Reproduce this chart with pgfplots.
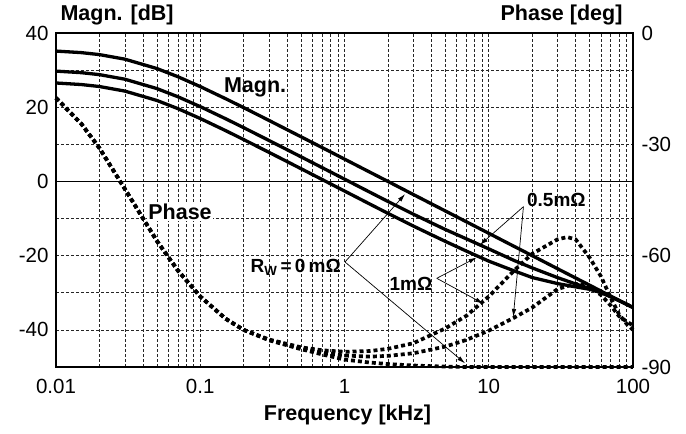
\documentclass[border=0pt]{standalone}
\usepackage{fontspec}
\setmainfont{Liberation Sans}
\usepackage{pgfplots}
\usepackage{pgfplotstable}
\pgfplotsset{compat=1.18}
\usetikzlibrary{arrows.meta}

\pgfplotstableread{
f     top     mid     bot
0.01  35.13   29.73   26.53
0.015 34.71   29.31   26.11
0.02  34.18   28.78   25.58
0.03  32.95   27.55   24.35
0.05  30.43   25.03   21.83
0.07  28.22   22.82   19.62
0.1   25.56   20.16   16.96
0.15  22.29   16.89   13.69
0.2   19.89   14.49   11.29
0.3   16.43   11.03    7.83
0.5   12.03    6.63    3.43
0.7    9.12    3.72    0.52
1      6.02    0.62   -2.58
1.5    2.50   -2.90   -6.10
2      0.01   -5.39   -8.59
3     -3.52   -8.82  -12.02
5     -7.95  -12.95  -16.15
7    -10.87  -15.47  -18.77
10   -13.97  -18.17  -21.47
15   -17.50  -21.30  -24.10
20   -19.99  -23.29  -25.89
30   -23.52  -25.92  -27.52
40   -26.01  -27.61  -28.41
50   -27.95  -28.85  -29.05
60   -29.54  -29.94  -29.94
70   -30.88  -31.08  -31.03
80   -32.04  -32.14  -32.09
90   -33.06  -33.06  -33.06
100  -33.97  -33.97  -33.97
}\magtable

\pgfplotstableread{
f     p0     p05    p1
0.01  -17.5  -17.5  -17.5
0.015 -24.5  -24.5  -24.5
0.02  -31.0  -31.0  -31.0
0.03  -42.0  -42.0  -42.0
0.05  -56.0  -56.0  -56.0
0.07  -64.0  -64.0  -64.0
0.1   -71.0  -71.0  -71.0
0.15  -77.0  -77.0  -77.0
0.2   -80.0  -80.0  -80.0
0.3   -82.8  -82.7  -82.6
0.5   -85.2  -85.0  -84.7
0.7   -86.6  -86.2  -85.5
1     -88.0  -86.9  -85.9
1.5   -88.8  -87.2  -85.7
2     -89.2  -87.0  -85.1
3     -89.6  -86.3  -83.6
5     -89.9  -84.5  -79.6
7     -90.0  -82.7  -76.2
10    -90.0  -80.2  -71.0
15    -90.0  -76.7  -64.0
20    -90.0  -74.0  -59.5
30    -90.0  -69.0  -55.6
35    -90.0  -68.2  -55.0
40    -90.0  -67.6  -55.6
50    -90.0  -68.2  -60.5
60    -90.0  -70.6  -65.6
70    -90.0  -73.4  -71.3
80    -90.0  -76.3  -75.8
90    -90.0  -77.7  -78.3
100   -90.0  -78.8  -80.0
}\phasetable

\begin{document}
\begin{tikzpicture}[font=\fontsize{20}{24}\selectfont]
\begin{axis}[
  at={(0,0)}, anchor=south west,
  scale only axis, width=577pt, height=334pt,
  xmode=log, xmin=0.01, xmax=100,
  ymin=-50, ymax=40,
  xtick={0.01,0.1,1,10,100},
  xticklabels={0.01,0.1,1,10,100},
  minor xtick={0.02,0.03,0.04,0.05,0.06,0.07,0.08,0.09,0.2,0.3,0.4,0.5,0.6,0.7,0.8,0.9,2,3,4,5,6,7,8,9,20,30,40,50,60,70,80,90},
  ytick={-40,-20,0,20,40},
  yticklabels={-40,-20,0,20,40},
  minor ytick={-30,-10,10,30},
  grid=both,
  major grid style={black!85, line width=0.6pt, dash pattern=on 3pt off 2pt},
  minor grid style={black!85, line width=0.6pt, dash pattern=on 3pt off 2pt},
  axis line style={line width=1.8pt},
  major tick length=0pt, minor tick length=0pt,
  tick label style={font=\fontsize{20.5}{24}\selectfont},
  xticklabel style={yshift=-9pt},
  yticklabel style={xshift=-4pt},
  extra y ticks={0}, extra y tick labels={},
  extra y tick style={grid=major, major grid style={solid, black, line width=1.1pt}},
]
\addplot[black, line width=3.3pt] table[x=f, y=top] {\magtable};
\addplot[black, line width=3.3pt] table[x=f, y=mid] {\magtable};
\addplot[black, line width=3.3pt] table[x=f, y=bot] {\magtable};
\end{axis}
\begin{axis}[
  at={(0,0)}, anchor=south west,
  scale only axis, width=577pt, height=334pt,
  xmode=log, xmin=0.01, xmax=100,
  ymin=-90, ymax=0,
  axis y line*=right, axis x line=none,
  ytick={-90,-60,-30,0},
  yticklabels={-90,-60,-30,0},
  major tick length=0pt, minor tick length=0pt,
  axis line style={line width=1.8pt},
  tick label style={font=\fontsize{20.5}{24}\selectfont},
  yticklabel style={xshift=5pt},
  clip=false,
]
\addplot[black, line width=3.7pt, dash pattern=on 4pt off 3pt] table[x=f, y=p0] {\phasetable};
\addplot[black, line width=3.7pt, dash pattern=on 4pt off 3pt] table[x=f, y=p05] {\phasetable};
\addplot[black, line width=3.7pt, dash pattern=on 4pt off 3pt] table[x=f, y=p1] {\phasetable};
\node[anchor=base west, yshift=12.5pt, xshift=1pt, font=\bfseries\fontsize{21.5}{24}\selectfont] at (rel axis cs:0,1) {Magn. [dB]};
\node[anchor=base east, yshift=12.5pt, xshift=-7pt, font=\bfseries\fontsize{21.5}{24}\selectfont] at (rel axis cs:1,1) {Phase [deg]};
\node[anchor=base, yshift=-53pt, xshift=3pt, font=\bfseries\fontsize{21.5}{24}\selectfont] at (rel axis cs:0.5,0) {Frequency [kHz]};
\node[font=\bfseries\fontsize{21.5}{24}\selectfont] at (axis cs:0.24,-14.6) {Magn.};
\node[font=\bfseries\fontsize{21.5}{24}\selectfont, fill=white, inner sep=1pt] at (axis cs:0.0724,-48.2) {Phase};
\node[anchor=east, font=\bfseries\fontsize{19}{22}\selectfont, inner sep=0pt] at (axis cs:0.946,-63.1) {R\textsubscript{W}\,=\,0\,mΩ};
\node[anchor=west, font=\bfseries\fontsize{19}{22}\selectfont, inner sep=0pt] at (axis cs:18.4,-44.9) {0.5mΩ};
\node[font=\bfseries\fontsize{19}{22}\selectfont, inner sep=0pt] at (axis cs:2.89,-67.6) {1mΩ};
\draw[line width=0.7pt, -{Latex[length=8pt,width=4.5pt]}] (axis cs:1.008,-61.7) -- (axis cs:2.63,-43.4);
\draw[line width=0.7pt, -{Latex[length=8pt,width=4.5pt]}] (axis cs:1.008,-61.7) -- (axis cs:6.85,-89.0);
\draw[line width=0.7pt, -{Latex[length=8pt,width=4.5pt]}] (axis cs:17.4,-46.8) -- (axis cs:8.7,-57.1);
\draw[line width=0.7pt, -{Latex[length=8pt,width=4.5pt]}] (axis cs:17.4,-46.8) -- (axis cs:14.8,-76.5);
\draw[line width=0.7pt, -{Latex[length=8pt,width=4.5pt]}] (axis cs:4.36,-66.1) -- (axis cs:8.25,-60.5);
\draw[line width=0.7pt, -{Latex[length=8pt,width=4.5pt]}] (axis cs:4.36,-66.1) -- (axis cs:9.15,-72.9);
\end{axis}
\pgfresetboundingbox
\path (-56pt,-67pt) rectangle (630pt,367pt);
\end{tikzpicture}
\end{document}
